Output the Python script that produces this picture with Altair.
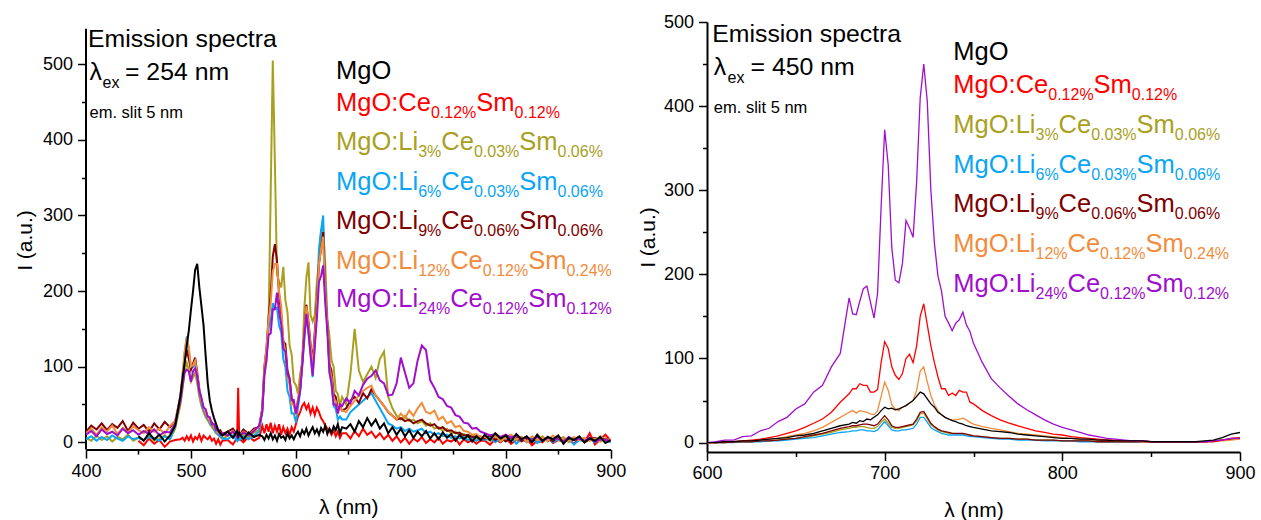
import altair as alt
import pandas as pd

FONT = "Liberation Sans"

# series keys, legend order
SERIES = ["MgO", "Ce", "Li3", "Li6", "Li9", "Li12", "Li24"]
COLORS = ["#000000", "#FF0000", "#A8A01E", "#0AA5F5", "#800000", "#F28C3C", "#A00FCB"]
COLOR_OF = dict(zip(SERIES, COLORS))

# legend text: (piece, is_subscript)
LEGEND_PARTS = [
    [("MgO", 0)],
    [("MgO:Ce", 0), ("0.12%", 1), ("Sm", 0), ("0.12%", 1)],
    [("MgO:Li", 0), ("3%", 1), ("Ce", 0), ("0.03%", 1), ("Sm", 0), ("0.06%", 1)],
    [("MgO:Li", 0), ("6%", 1), ("Ce", 0), ("0.03%", 1), ("Sm", 0), ("0.06%", 1)],
    [("MgO:Li", 0), ("9%", 1), ("Ce", 0), ("0.06%", 1), ("Sm", 0), ("0.06%", 1)],
    [("MgO:Li", 0), ("12%", 1), ("Ce", 0), ("0.12%", 1), ("Sm", 0), ("0.24%", 1)],
    [("MgO:Li", 0), ("24%", 1), ("Ce", 0), ("0.12%", 1), ("Sm", 0), ("0.12%", 1)],
]

# ---------------- excitation 254 nm ----------------
L_GRID = (list(range(400, 491, 5)) + list(range(492, 531, 2))
          + [535, 540, 544, 545, 546, 550, 555, 560, 565]
          + list(range(568, 645, 2)) + list(range(648, 777, 4)) + list(range(780, 901, 5)))

N = None
L_MGO = ([N] * 10 + [8, 2, 12, 4, 10, 1, 9, 22, 62]
         + [85, 105, 128, 148, 175, 200, 228, 236, 205, 180, 155, 115, 78, 55, 42, 32, 24, 16, 12, 9]
         + [14, 6, 15, 8, 12, 4, 13, 7, 10]
         + [8, 3, 10, 5, 12, 4, 9, 2, 11, 6, 8, 3, 12, 5, 9, 4, 10, 14, 8, 16, 11, 18, 9, 15, 20,
            12, 17, 10, 19, 14, 22, 11, 18, 13, 21, 16, 24, 12, 20]
         + [18, 24, 14, 28, 20, 32, 22, 30, 18, 25, 12, 20, 10, 18, 8, 16, 6, 14, 8, 15, 5, 12, 4,
            13, 6, 11, 2, 10, 4, 9, 1, 8, 3]
         + [10, 3, 12, 5, 9, 1, 11, 4, 8, 0, 10, 2, 7, 4, 9, -2, 6, 3, 8, 0, 5, 2, 7, -1, 3])
L_CE = ([N] * 10 + [2, -4, 5, -2, 3, -6, 1, 3, 4]
        + [6, 2, 8, 3, 9, 1, 7, 4, 10, 2, 9, 6, 4, 8, 2, 5, -2, 4, -3, 2]
        + [3, -3, 6, 72, 5, 0, 8, 2, 6]
        + [22, 12, 24, 14, 26, 12, 22, 14, 24, 10, 20, 12, 18, 10, 20, 14, 24, 34, 40, 48, 52, 44,
           50, 38, 46, 36, 46, 40, 32, 28, 22, 18, 15, 10, 16, 8, 14, 6, 12]
        + [12, 5, 15, 8, 18, 10, 14, 6, 12, 4, 10, 2, 8, 0, 6, -2, 5, 1, 7, -1, 4, 0, 6, -2, 3, 1,
           5, -3, 4, 0, 3, -2, 2]
        + [2, -3, 4, 0, 6, -2, 3, 1, 5, -4, 2, 0, 7, -1, 3, 1, 4, -2, 6, 0, 12, -3, 4, 10, 2])
L_LI3 = ([6, 2, 9, 3, 8, 1, 7, 4, 10, 2, 6, 3, 8, 2, 5, 9, 4, 18, 50]
         + [70, 95, 105, 95, 80, 86, 92, 78, 60, 48, 40, 33, 29, 24, 20, 16, 12, 10, 7, 5]
         + [8, 14, 6, 12, 5, 11, 7, 13, 16]
         + [45, 88, 108, 160, 330, 505, 370, 222, 212, 205, 232, 188, 172, 128, 116, 80, 76, 64,
            90, 104, 176, 218, 238, 168, 160, 168, 212, 238, 280, 282, 236, 164, 140, 108, 100,
            68, 64, 48, 60]
         + [50, 90, 150, 95, 80, 90, 100, 85, 110, 120, 60, 45, 35, 30, 35, 28, 30, 25, 28, 22,
            25, 18, 20, 15, 18, 12, 14, 9, 11, 7, 9, 5, 8]
         + [6, 2, 8, 1, 5, 9, 3, 7, 0, 6, 2, 8, 1, 5, 3, 7, 0, 4, 6, 1, 5, 2, 8, 3, 4])
L_LI6 = ([4, 8, 2, 7, 3, 9, 5, 2, 8, 4, 6, 3, 7, 5, 2, 8, 4, 22, 60]
         + [88, 118, 140, 122, 98, 100, 105, 86, 66, 52, 42, 36, 31, 26, 22, 18, 13, 10, 8, 5]
         + [4, 9, 2, 7, 3, 8, 4, 9, 14]
         + [40, 96, 114, 150, 160, 184, 176, 178, 154, 146, 110, 100, 68, 60, 38, 38, 26, 46, 66,
            100, 134, 170, 144, 116, 86, 130, 184, 256, 280, 300, 208, 156, 94, 76, 48, 44, 30,
            34, 30]
         + [30, 40, 45, 50, 55, 60, 65, 55, 45, 35, 25, 22, 18, 20, 15, 18, 14, 16, 18, 12, 14,
            10, 12, 8, 10, 6, 8, 5, 7, 3, 6, 2, 5]
         + [3, 6, 0, 5, 2, 7, -2, 4, 1, 6, -1, 3, 5, 0, 4, 2, 6, -3, 3, 1, 5, 0, 4, 2, 0])
L_LI9 = ([14, 22, 17, 25, 16, 24, 19, 28, 15, 26, 18, 23, 14, 25, 17, 27, 20, 28, 60]
         + [82, 108, 122, 110, 96, 104, 112, 92, 70, 56, 46, 38, 34, 29, 26, 22, 19, 15, 16, 11]
         + [14, 18, 10, 16, 9, 17, 11, 18, 20]
         + [45, 100, 124, 166, 194, 246, 262, 240, 195, 170, 134, 130, 95, 84, 58, 52, 38, 56, 70,
            106, 144, 182, 160, 130, 106, 146, 184, 236, 256, 278, 196, 156, 104, 94, 64, 60, 44,
            48, 42]
         + [45, 55, 60, 52, 65, 58, 70, 62, 55, 48, 40, 35, 30, 32, 28, 30, 25, 28, 30, 25, 22,
            24, 18, 20, 15, 16, 12, 13, 9, 10, 7, 8, 5]
         + [5, 9, 3, 7, 1, 6, 8, 2, 5, 0, 7, 3, 6, 1, 8, 2, 5, 3, 7, 0, 4, 6, 2, 5, 1])
L_LI12 = ([12, 18, 10, 20, 14, 22, 11, 19, 13, 21, 16, 12, 20, 14, 18, 11, 22, 28, 62]
          + [90, 120, 138, 125, 100, 102, 108, 90, 70, 55, 46, 38, 33, 28, 24, 20, 16, 12, 13, 9]
          + [10, 15, 8, 13, 9, 14, 10, 16, 20]
          + [45, 100, 124, 162, 184, 226, 236, 236, 200, 180, 134, 120, 86, 76, 50, 50, 36, 56,
             74, 110, 144, 180, 156, 128, 100, 140, 180, 236, 256, 272, 196, 156, 100, 86, 58, 54,
             40, 46, 42]
          + [40, 48, 55, 62, 68, 72, 75, 62, 55, 48, 40, 35, 30, 38, 32, 42, 35, 45, 52, 40, 38,
             42, 30, 34, 25, 28, 20, 22, 15, 14, 10, 11, 7]
          + [7, 3, 9, 2, 6, 10, 4, 7, 1, 8, 3, 6, 2, 9, 4, 5, 1, 7, 3, 6, 2, 5, 1, 4, 2])
L_LI24 = ([10, 15, 8, 17, 11, 14, 9, 18, 12, 16, 10, 15, 11, 17, 9, 14, 13, 25, 55]
          + [75, 92, 96, 94, 80, 94, 98, 88, 68, 59, 46, 44, 34, 33, 24, 24, 16, 16, 10, 12]
          + [9, 14, 7, 12, 8, 13, 9, 15, 22]
          + [40, 90, 110, 142, 144, 176, 176, 198, 172, 156, 124, 120, 90, 84, 56, 56, 38, 52, 68,
             100, 140, 170, 146, 116, 88, 126, 164, 212, 220, 234, 184, 146, 92, 78, 50, 50, 38,
             50, 48]
          + [58, 52, 68, 62, 76, 84, 88, 95, 82, 78, 62, 63, 78, 112, 92, 72, 78, 108, 128, 122,
             82, 72, 60, 57, 48, 46, 36, 34, 26, 25, 18, 19, 14]
          + [12, 9, 11, 7, 10, 6, 9, 4, 7, 3, 8, 2, 6, 4, 5, 1, 7, 3, 5, 2, 6, 1, 4, 3, 2])

# ---------------- excitation 450 nm ----------------
R_GRID = list(range(600, 680, 5)) + list(range(680, 751, 2)) + list(range(755, 901, 5))

R_MGO = ([0, 0, 1, 1, 2, 2, 3, 4, 5, 6, 8, 9, 11, 14, 17, 20]
         + [22, 24, 23, 26, 25, 28, 27, 30, 33, 38, 42, 40, 41, 39, 40, 42, 44, 47, 50, 55, 60,
            58, 52, 46, 42, 36, 33, 30, 28, 26, 25, 23, 22, 20, 19, 18]
         + [16, 14, 13, 12, 10, 9, 8, 7, 6, 5, 5, 4, 4, 3, 3, 2, 2, 2, 2, 1, 1, 1, 1, 1, 1, 2, 3,
            6, 10, 12])
R_CE = ([0, 0, 1, 1, 2, 3, 4, 6, 8, 11, 14, 18, 23, 28, 36, 48]
        + [58, 64, 64, 70, 68, 68, 60, 60, 63, 95, 120, 112, 90, 80, 75, 82, 100, 105, 95, 115,
           150, 165, 140, 115, 95, 78, 64, 64, 56, 59, 56, 62, 60, 60, 48, 46]
        + [38, 32, 27, 23, 20, 17, 14, 12, 10, 9, 7, 6, 5, 4, 3, 3, 2, 2, 2, 1, 1, 1, 1, 1, 1, 1,
           1, 3, 5, 6])
R_LI3 = ([0, 0, 0, 1, 1, 1, 2, 2, 3, 4, 5, 6, 8, 10, 12, 15]
         + [17, 18, 18, 19, 19, 18, 17, 17, 19, 24, 28, 23, 18, 17, 17, 18, 19, 20, 21, 26, 34,
            35, 28, 21, 18, 15, 13, 12, 11, 11, 10, 10, 10, 9, 9, 8]
         + [7, 6, 5, 5, 4, 4, 3, 3, 3, 2, 2, 2, 2, 1, 1, 1, 1, 1, 1, 1, 1, 1, 1, 1, 1, 1, 2, 3, 4,
            5])
R_LI6 = ([0, 0, 0, 0, 1, 1, 1, 2, 2, 3, 4, 5, 6, 8, 10, 12]
         + [13, 14, 14, 15, 15, 14, 14, 13, 15, 20, 25, 20, 15, 14, 14, 15, 15, 16, 17, 22, 30,
            30, 24, 18, 15, 13, 11, 10, 9, 9, 9, 9, 9, 8, 7, 7]
         + [6, 5, 4, 4, 3, 3, 3, 2, 2, 2, 2, 1, 1, 1, 1, 1, 1, 1, 1, 1, 1, 1, 1, 1, 1, 1, 2, 3, 4,
            5])
R_LI9 = ([0, 0, 0, 1, 1, 1, 2, 2, 3, 4, 5, 7, 9, 11, 14, 17]
         + [19, 20, 20, 21, 22, 22, 21, 20, 22, 27, 32, 27, 20, 18, 18, 19, 20, 21, 22, 28, 36,
            37, 30, 23, 19, 16, 14, 13, 12, 11, 11, 11, 11, 10, 9, 8]
         + [7, 6, 5, 5, 4, 4, 3, 3, 3, 2, 2, 2, 2, 1, 1, 1, 1, 1, 1, 1, 1, 1, 1, 1, 1, 1, 2, 3, 4,
            5])
R_LI12 = ([0, 0, 1, 1, 2, 2, 3, 4, 5, 7, 9, 11, 14, 18, 24, 30]
          + [36, 38, 35, 38, 37, 36, 34, 33, 38, 55, 72, 62, 45, 40, 38, 42, 44, 47, 50, 62, 85,
             90, 72, 56, 45, 38, 33, 30, 28, 27, 27, 28, 29, 27, 24, 22]
          + [19, 17, 15, 13, 11, 10, 9, 8, 7, 6, 5, 4, 4, 3, 3, 2, 2, 2, 1, 1, 1, 1, 1, 1, 1, 1,
             2, 2, 3, 4])
R_LI24 = ([0, 1, 3, 3, 7, 8, 14, 17, 25, 30, 40, 46, 60, 68, 90, 106]
          + [172, 153, 152, 168, 183, 186, 167, 148, 177, 280, 372, 330, 232, 193, 190, 213, 264,
             255, 244, 310, 410, 450, 405, 300, 237, 198, 180, 150, 142, 133, 142, 146, 155, 140,
             132, 118]
          + [95, 76, 65, 55, 46, 39, 33, 27, 22, 18, 15, 12, 9, 7, 5, 4, 3, 2, 2, 1, 1, 1, 1, 1,
             1, 1, 2, 3, 5, 5])

LEFT = dict(zip(SERIES, [L_MGO, L_CE, L_LI3, L_LI6, L_LI9, L_LI12, L_LI24]))
RIGHT = dict(zip(SERIES, [R_MGO, R_CE, R_LI3, R_LI6, R_LI9, R_LI12, R_LI24]))


def long_frame(grid, table):
    rows = []
    for name, vals in table.items():
        assert len(vals) == len(grid), (name, len(vals), len(grid))
        for lam, v in zip(grid, vals):
            if v is not None:
                rows.append({"lam": lam, "I": v, "s": name})
    return pd.DataFrame(rows)


# Arial / Liberation Sans advance widths (em units) for the annotation glyphs
ADV = {"M": .833, "g": .556, "O": .778, ":": .278, "C": .722, "e": .556, "S": .667,
       "m": .833, "L": .556, "i": .222, ".": .278, "%": .889, " ": .278}
for d in "0123456789":
    ADV[d] = .556


def text_width(t, size):
    return sum(ADV.get(c, .556) for c in t) * size


MAIN_FS, SUB_FS, SUB_DROP = 25.5, 16, 7


def legend_rows(x0, baselines):
    rows = []
    for parts, base, col in zip(LEGEND_PARTS, baselines, COLORS):
        x = x0
        for txt, sub in parts:
            fs = SUB_FS if sub else MAIN_FS
            rows.append({"t": txt, "px": x, "py": base + (SUB_DROP if sub else 0), "fs": fs, "col": col})
            x += text_width(txt, fs)
    return rows


def heading_rows(x0, b1, lam_text, ex_x, eq_x):
    return [
        {"t": "Emission spectra", "px": x0, "py": b1, "fs": 24.8, "col": "#000000"},
        {"t": "λ", "px": x0 + 1.5, "py": b1 + 33.3, "fs": 24.8, "col": "#000000"},
        {"t": "ex", "px": ex_x, "py": b1 + 41.3, "fs": 16, "col": "#000000"},
        {"t": lam_text, "px": eq_x, "py": b1 + 33.3, "fs": 24.8, "col": "#000000"},
        {"t": "em. slit 5 nm", "px": x0 + 1.5, "py": b1 + 70.8, "fs": 16.5, "col": "#000000"},
    ]


def axis(values, major, title, label_pad=4, **kw):
    return alt.Axis(
        values=values, title=title, grid=False,
        labelExpr=f"datum.value % {major} === 0 ? datum.label : ''",
        tickSize={"condition": {"test": f"datum.value % {major} !== 0", "value": 4.5}, "value": 8.5},
        tickColor="black", tickWidth=1.5, domainColor="black", domainWidth=2,
        labelFont=FONT, labelFontSize=18, labelColor="black", labelPadding=label_pad,
        labelOverlap=False, labelFlush=False,
        titleFont=FONT, titleFontSize=21, titleFontWeight="normal", titleColor="black",
        **kw)


def panel(df, xdom, xvals, ydom, yvals, w, h, order, sw, ytx, yty, texts, yline=None):
    xenc = alt.X("lam:Q", scale=alt.Scale(domain=xdom, nice=False, zero=False),
                 axis=axis(xvals, 100, "λ (nm)", titleY=58, titleBaseline="middle"))
    yaxis_kw = dict(titleX=ytx, titleY=yty, titleBaseline="middle")
    if yline is not None:
        yaxis_kw["domain"] = False
    yenc = alt.Y("I:Q", scale=alt.Scale(domain=ydom, nice=False, zero=False),
                 axis=axis(yvals, 100, "I (a.u.)", label_pad=5, **yaxis_kw))
    base = alt.Chart(df).encode(x=xenc, y=yenc)
    layers = [
        base.transform_filter(alt.datum.s == name)
        .mark_line(color=COLOR_OF[name], strokeWidth=sw, clip=True, strokeJoin="miter")
        for name in order
    ]
    if yline is not None:
        rule_df = pd.DataFrame({"lam": [xdom[0]], "I": [ydom[0]], "I2": [yline]})
        layers.insert(0, alt.Chart(rule_df).mark_rule(color="black", strokeWidth=2).encode(
            x=xenc, y=yenc, y2="I2:Q"))
    ann = alt.Chart(pd.DataFrame(texts)).mark_text(align="left", baseline="alphabetic", font=FONT).encode(
        x=alt.X("px:Q", scale=None, axis=None),
        y=alt.Y("py:Q", scale=None, axis=None),
        text="t:N",
        size=alt.Size("fs:Q", scale=None, legend=None),
        color=alt.Color("col:N", scale=None, legend=None),
    )
    return alt.layer(*layers, ann).properties(width=w, height=h)


left_df = long_frame(L_GRID, LEFT)
right_df = long_frame(R_GRID, RIGHT)

DRAW_ORDER_L = ["Ce", "Li3", "Li6", "Li9", "Li12", "Li24", "MgO"]
DRAW_ORDER_R = ["Li3", "Li6", "Li9", "Li12", "Ce", "Li24", "MgO"]

left_texts = (heading_rows(2, 25, "= 254 nm", 16.5, 39)
              + legend_rows(250, [56.6, 89, 128.3, 168.3, 206.6, 246.6, 285]))
right_texts = (heading_rows(5.3, 20, "= 450 nm", 20.6, 43.6)
               + legend_rows(246.3, [38.3, 71, 110.8, 150.8, 190.3, 230.3, 270.3]))

left = panel(left_df, [400, 900], list(range(400, 901, 50)), [-9.66, 555.95],
             list(range(0, 501, 50)), 524.7, 427.6, DRAW_ORDER_L, 2.0, -61, 218,
             left_texts, yline=547)
right = panel(right_df, [600, 900], list(range(600, 901, 50)), [-11.2, 500],
              list(range(0, 501, 50)), 533, 430, DRAW_ORDER_R, 1.3, -58.7, 215,
              right_texts)

chart = (
    alt.HConcatChart(hconcat=[left, right], spacing=96, bounds="flush")
    .properties(padding={"left": 14, "top": 13, "right": 0, "bottom": 0}, background="white")
    .configure_view(stroke=None)
)

chart.save("out.html", embed_options={"renderer": "svg", "actions": False})
